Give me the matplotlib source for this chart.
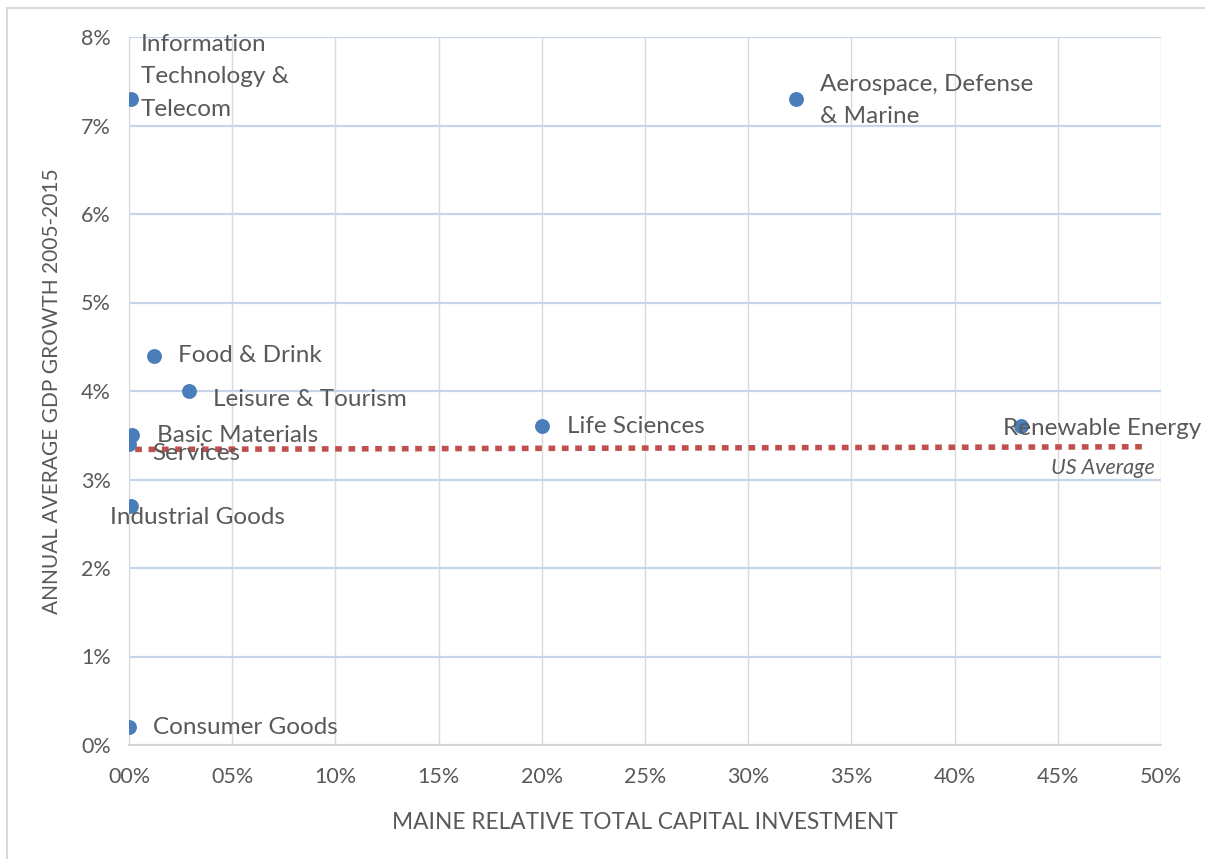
import matplotlib.pyplot as plt
from matplotlib.lines import Line2D
from matplotlib.ticker import FuncFormatter

# Maine sectors: relative capital investment (%) vs GDP growth (%)
sectors = ["Information\nTechnology &\nTelecom", "Aerospace, Defense\n& Marine",
           "Food & Drink", "Leisure & Tourism", "Basic Materials", "Services",
           "Industrial Goods", "Consumer Goods", "Life Sciences", "Renewable Energy"]
investment = [0.1, 32.3, 1.2, 2.9, 0.15, 0.0, 0.1, 0.0, 20.0, 43.2]
gdp_growth = [7.3, 7.3, 4.4, 4.0, 3.5, 3.4, 2.7, 0.2, 3.6, 3.6]

us_avg_x = [0.3, 49.3]
us_avg_y = [3.34, 3.37]

# label offsets in pixels (dx, dy)
offsets = [(10, 22), (24, -2), (24, 0), (24, -8), (25, 0), (23, -9),
           (-21, -11), (24, 0), (25, 0), (-18, -2)]

text_col = "#595959"
font = "Lato"

fig = plt.figure(figsize=(12.05, 8.59), dpi=100)
ax = fig.add_axes([129 / 1205, 1 - 745 / 859, (1161 - 129) / 1205, (745 - 37) / 859])

ax.plot(us_avg_x, us_avg_y, color="#C0504D", lw=4, linestyle=(0, (1.2, 1.2)), zorder=2)
ax.text(49.7, 3.13, "US Average", style="italic", color=text_col,
        fontsize=15.5, family=font, ha="right", va="center")

ax.scatter(investment, gdp_growth, s=115, color="#4A7EBB", zorder=3, linewidths=0)
for name, x, y, (dx, dy) in zip(sectors, investment, gdp_growth, offsets):
    ax.annotate(name, (x, y), xytext=(dx, dy), textcoords="offset pixels",
                ha="left", va="center", color=text_col, fontsize=17.5, family=font,
                linespacing=1.65, zorder=4)

ax.set_xlim(0, 50)
ax.set_ylim(0, 8)
ax.set_xticks(range(0, 51, 5))
ax.set_yticks(range(0, 9))
ax.xaxis.set_major_formatter(FuncFormatter(lambda v, p: "%02d%%" % v))
ax.yaxis.set_major_formatter(FuncFormatter(lambda v, p: "%d%%" % v))
ax.tick_params(length=0, labelsize=15.5, labelcolor=text_col)
ax.tick_params(axis="x", pad=16)
ax.tick_params(axis="y", pad=13)
for lbl in ax.get_xticklabels() + ax.get_yticklabels():
    lbl.set_family(font)

ax.grid(axis="y", color="#C6D5EA", lw=1.6)
ax.grid(axis="x", color="#D9D9D9", lw=1)
ax.set_axisbelow(True)
for side in ["top", "right"]:
    ax.spines[side].set_visible(False)
ax.spines["left"].set_color("#D9D9D9")
ax.spines["bottom"].set_color("#D0D0D0")
ax.spines["bottom"].set_linewidth(1.2)

ax.set_xlabel("MAINE RELATIVE TOTAL CAPITAL INVESTMENT", fontsize=16.3, color=text_col,
              family=font, labelpad=18)
ax.set_ylabel("ANNUAL AVERAGE GDP GROWTH 2005-2015", fontsize=15, color=text_col,
              family=font, labelpad=14)

# chart border (left and top edges visible)
fig.add_artist(Line2D([7 / 1205, 7 / 1205], [0, 1 - 8 / 859], color="#D9D9D9", lw=1.5))
fig.add_artist(Line2D([7 / 1205, 1], [1 - 8 / 859, 1 - 8 / 859], color="#D9D9D9", lw=1.5))

fig.savefig("out.png", dpi=100)
